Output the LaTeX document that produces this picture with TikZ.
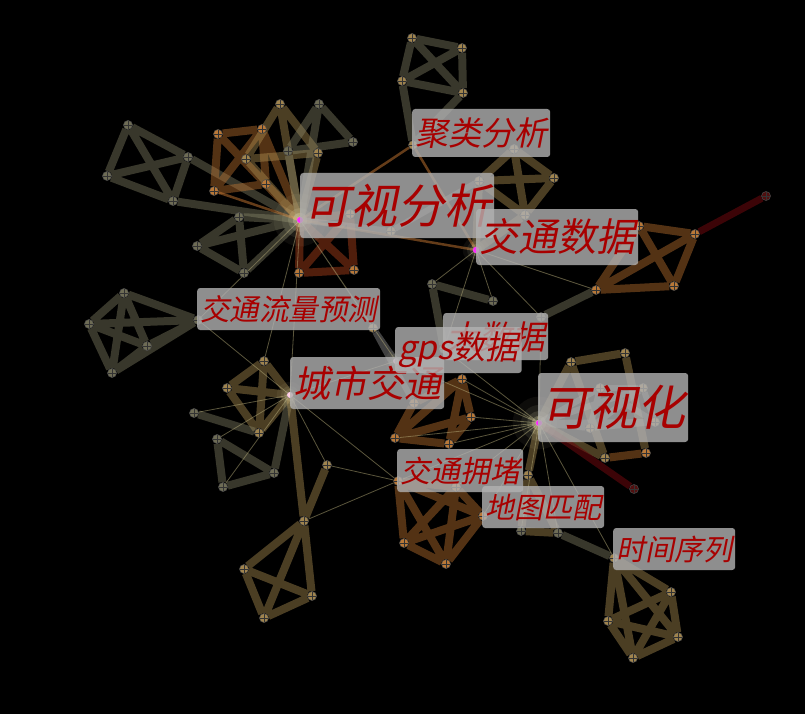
\documentclass[tikz,border=0pt]{standalone}
\usepackage{fontspec}
\newfontfamily\cjk[FakeSlant=0.2]{Noto Sans CJK SC}
\usetikzlibrary{positioning}
\pgfdeclarelayer{back}
\pgfdeclarelayer{edges}
\pgfsetlayers{back,edges,main}

\definecolor{egray}{RGB}{140,138,108}
\definecolor{egold}{RGB}{180,148,85}
\definecolor{eorange}{RGB}{200,120,50}
\definecolor{erust}{RGB}{160,60,25}
\definecolor{edark}{RGB}{100,8,12}
\definecolor{espoke}{RGB}{180,170,120}
\definecolor{vgray}{RGB}{110,108,85}
\definecolor{vgold}{RGB}{160,132,78}
\definecolor{vorange}{RGB}{185,120,55}
\definecolor{vdark}{RGB}{80,15,15}
\definecolor{kword}{RGB}{168,0,0}
\definecolor{kmag}{RGB}{255,40,255}

\tikzset{
  vtx/.style={circle, inner sep=0pt, minimum size=9pt, fill=#1, draw=black!70, line width=0.5pt,
    path picture={\draw[black!80, line width=0.8pt]
      (path picture bounding box.north) -- (path picture bounding box.south)
      (path picture bounding box.west) -- (path picture bounding box.east);}},
  vtx/.default=vgold,
  hub/.style={circle, inner sep=0pt, minimum size=6pt, fill=#1},
  hub/.default=kmag,
  ge/.style={draw=egray, line width=8pt, draw opacity=0.4},
  gd/.style={draw=egold, line width=8pt, draw opacity=0.42},
  oe/.style={draw=eorange, line width=8pt, draw opacity=0.42},
  re/.style={draw=erust, line width=8pt, draw opacity=0.5},
  de/.style={draw=edark, line width=7pt, draw opacity=0.6},
  le/.style={draw=white, line width=6pt, draw opacity=0.25},
  om/.style={draw=eorange, line width=2.5pt, draw opacity=0.5},
  se/.style={draw=espoke, line width=0.8pt, draw opacity=0.5},
  kw/.style 2 args={anchor=west, fill=white!70!black, fill opacity=0.8, text opacity=1,
    text=kword, rounded corners=3pt, inner xsep=3pt, inner ysep=0pt,
    font=\cjk\fontsize{#1}{#1}\selectfont, minimum height=#2}
}

\begin{document}
\begin{tikzpicture}[x=1pt,y=-1pt]
    \useasboundingbox (0,0) rectangle (805,714);
    \begin{pgfonlayer}{back}
        \fill[black] (0,0) rectangle (805,714);
    \end{pgfonlayer}

    % keyword vertices
    \node[hub] (kvfx) at (300,220) {};
    \node[hub] (jtsj) at (476,250) {};
    \node[hub] (kvh) at (539,423) {};
    \node[hub=kmag!40!white] (csjt) at (290,395) {};
    \node[hub=kmag!40!white] (gps) at (396,361) {};
    \node[vtx] (jlfx) at (413,145) {};
    \node[vtx=vgray] (llyc) at (198,320) {};
    \node[vtx=vgray] (dsj) at (444,349) {};
    \node[vtx=vorange] (jtyd) at (398,481) {};
    \node[vtx=vorange] (dtpp) at (483,516) {};
    \node[vtx] (sjxl) at (614,558) {};

    % other vertices
    \node[vtx=vgray] (a1) at (128,125) {};
    \node[vtx=vgray] (a2) at (188,157) {};
    \node[vtx=vgray] (a3) at (107,176) {};
    \node[vtx=vgray] (a4) at (173,201) {};
    \node[vtx=vorange] (b1) at (218,134) {};
    \node[vtx=vorange] (b2) at (262,129) {};
    \node[vtx=vorange] (b3) at (214,191) {};
    \node[vtx=vorange] (b4) at (266,184) {};
    \node[vtx] (c1) at (280,104) {};
    \node[vtx] (c2) at (246,159) {};
    \node[vtx] (c3) at (318,153) {};
    \node[vtx=vgray] (d1) at (319,104) {};
    \node[vtx=vgray] (d2) at (353,142) {};
    \node[vtx=vgray] (d3) at (288,151) {};
    \node[vtx=vgray] (e1) at (239,217) {};
    \node[vtx=vgray] (e2) at (197,246) {};
    \node[vtx=vgray] (e3) at (244,273) {};
    \node[vtx=vorange] (f1) at (350,214) {};
    \node[vtx=vorange] (f2) at (299,273) {};
    \node[vtx=vorange] (f3) at (354,270) {};
    \node[vtx] (g1) at (412,38) {};
    \node[vtx] (g2) at (462,48) {};
    \node[vtx] (g3) at (402,81) {};
    \node[vtx] (g4) at (463,93) {};
    \node[vtx] (h1) at (514,149) {};
    \node[vtx] (h2) at (554,178) {};
    \node[vtx] (h3) at (479,181) {};
    \node[vtx] (h4) at (525,215) {};
    \node[vtx=vorange] (i1) at (639,226) {};
    \node[vtx=vorange] (i2) at (695,234) {};
    \node[vtx=vorange] (i3) at (596,290) {};
    \node[vtx=vorange] (i4) at (674,286) {};
    \node[vtx=vdark] (t2) at (766,196) {};
    \node[vtx=vgray] (j1) at (124,293) {};
    \node[vtx=vgray] (j2) at (89,324) {};
    \node[vtx=vgray] (j3) at (147,346) {};
    \node[vtx=vgray] (j4) at (112,373) {};
    \node[vtx] (k1) at (264,361) {};
    \node[vtx] (k2) at (227,388) {};
    \node[vtx] (k3) at (259,433) {};
    \node[vtx=vgray] (k0) at (194,413) {};
    \node[vtx=vgray] (l1) at (217,439) {};
    \node[vtx=vgray] (l2) at (274,473) {};
    \node[vtx=vgray] (l3) at (223,487) {};
    \node[vtx] (m1) at (327,465) {};
    \node[vtx] (m2) at (304,521) {};
    \node[vtx] (m3) at (244,569) {};
    \node[vtx] (m4) at (312,596) {};
    \node[vtx] (m5) at (264,618) {};
    \node[vtx=vorange] (n1) at (462,379) {};
    \node[vtx=vorange] (n2) at (471,417) {};
    \node[vtx=vorange] (n3) at (395,438) {};
    \node[vtx=vorange] (n4) at (449,444) {};
    \node[vtx=vorange] (n5) at (414,403) {};
    \node[vtx=vorange] (o1) at (456,487) {};
    \node[vtx=vorange] (o3) at (404,543) {};
    \node[vtx=vorange] (o4) at (446,564) {};
    \node[vtx] (p1) at (528,475) {};
    \node[vtx=vgray] (p2) at (521,531) {};
    \node[vtx=vgray] (p3) at (558,533) {};
    \node[vtx] (q1) at (671,592) {};
    \node[vtx] (q2) at (608,621) {};
    \node[vtx] (q3) at (678,637) {};
    \node[vtx] (q4) at (633,658) {};
    \node[vtx=vgray] (r1) at (432,284) {};
    \node[vtx=vgray] (r2) at (493,301) {};
    \node[vtx=vgray] (r3) at (541,317) {};
    \node[vtx] (s1) at (571,362) {};
    \node[vtx] (s2) at (625,353) {};
    \node[vtx] (s3) at (605,458) {};
    \node[vtx=vorange] (s4) at (646,453) {};
    \node[vtx] (s5) at (600,388) {};
    \node[vtx] (s6) at (643,388) {};
    \node[vtx] (s7) at (590,428) {};
    \node[vtx] (s8) at (655,422) {};
    \node[vtx=vdark] (t1) at (634,489) {};
    \node[vtx] (u1) at (391,231) {};
    \node[vtx] (w1) at (373,328) {};

    \begin{pgfonlayer}{edges}
        % thick cluster edges
        \draw[ge] (a1) -- (a2) (a1) -- (a3) (a1) -- (a4) (a2) -- (a3) (a2) -- (a4) (a3) -- (a4)
                  (a2) -- (kvfx) (a4) -- (kvfx);
        \draw[oe] (b1) -- (b2) (b1) -- (b3) (b1) -- (b4) (b2) -- (b3) (b2) -- (b4) (b3) -- (b4)
                  (b1) -- (kvfx) (b2) -- (kvfx) (b4) -- (kvfx);
        \draw[gd] (c1) -- (c2) (c1) -- (c3) (c2) -- (c3) (c1) -- (kvfx) (c2) -- (kvfx) (c3) -- (kvfx);
        \draw[ge] (d1) -- (d2) (d1) -- (d3) (d2) -- (d3) (d1) -- (kvfx) (d3) -- (kvfx);
        \draw[ge] (e1) -- (e2) (e1) -- (e3) (e2) -- (e3) (e1) -- (kvfx) (e2) -- (kvfx) (e3) -- (kvfx);
        \draw[re] (f1) -- (f2) (f1) -- (f3) (f2) -- (f3) (f1) -- (kvfx) (f2) -- (kvfx) (f3) -- (kvfx);
        \draw[ge] (g1) -- (g2) (g1) -- (g3) (g1) -- (g4) (g2) -- (g3) (g2) -- (g4) (g3) -- (g4)
                  (g3) -- (jlfx) (g4) -- (jlfx);
        \draw[gd] (h1) -- (h2) (h1) -- (h3) (h1) -- (h4) (h2) -- (h3) (h2) -- (h4) (h3) -- (h4)
                  (h3) -- (jtsj) (h4) -- (jtsj);
        \draw[oe] (i1) -- (i2) (i1) -- (i3) (i1) -- (i4) (i2) -- (i3) (i2) -- (i4) (i3) -- (i4);
        \draw[ge] (j1) -- (j2) (j1) -- (j3) (j1) -- (j4) (j2) -- (j3) (j2) -- (j4) (j3) -- (j4)
                  (j1) -- (llyc) (j2) -- (llyc) (j3) -- (llyc) (j4) -- (llyc);
        \draw[gd] (k1) -- (k2) (k1) -- (k3) (k2) -- (k3) (k1) -- (csjt) (k2) -- (csjt) (k3) -- (csjt);
        \draw[ge] (k0) -- (k3) (l1) -- (l2) (l1) -- (l3) (l2) -- (l3) (l2) -- (csjt);
        \draw[gd] (csjt) -- (m2) (m1) -- (m2) (m2) -- (m3) (m2) -- (m4) (m2) -- (m5)
                  (m3) -- (m4) (m3) -- (m5) (m4) -- (m5);
        \draw[oe] (n1) -- (n2) (n1) -- (n3) (n1) -- (n4) (n2) -- (n3) (n2) -- (n4) (n3) -- (n4)
                  (n5) -- (n1) (n5) -- (n3);
        \draw[oe] (jtyd) -- (o1) (jtyd) -- (dtpp) (jtyd) -- (o3) (jtyd) -- (o4) (o1) -- (dtpp)
                  (o1) -- (o3) (o1) -- (o4) (dtpp) -- (o3) (dtpp) -- (o4) (o3) -- (o4);
        \draw[gd] (p1) -- (kvh) (p1) -- (p2) (p1) -- (p3) (p2) -- (p3);
        \draw[ge] (p3) -- (sjxl) (r1) -- (r2) (r1) -- (dsj) (r3) -- (i3);
        \draw[gd] (sjxl) -- (q1) (sjxl) -- (q2) (sjxl) -- (q3) (sjxl) -- (q4) (q1) -- (q2)
                  (q1) -- (q3) (q1) -- (q4) (q2) -- (q3) (q2) -- (q4) (q3) -- (q4);
        \draw[gd] (s1) -- (s2) (s1) -- (s3) (s2) -- (s4) (s1) -- (kvh) (s3) -- (kvh);
        \draw[oe] (s3) -- (s4);
        \draw[le] (s5) -- (s6) (s5) -- (s7) (s6) -- (s8) (s7) -- (s8) (s5) -- (s8) (s6) -- (s7)
                  (s5) -- (kvh) (s6) -- (kvh) (s7) -- (kvh) (s8) -- (kvh);
        \draw[le] (kvfx) -- (u1) (u1) -- (h3) (w1) -- (gps) (w1) -- (n5);
        \draw[de] (kvh) -- (t1) (i2) -- (t2);
        \draw[om] (jlfx) -- (kvfx) (jlfx) -- (jtsj) (kvfx) -- (jtsj) (b3) -- (kvfx);
        % thin links
        \draw[se] (kvfx) -- (llyc) (kvfx) -- (csjt) (kvfx) -- (gps) (kvfx) -- (w1) (kvfx) -- (k1);
        \draw[se] (jtsj) -- (r1) (jtsj) -- (r2) (jtsj) -- (r3) (jtsj) -- (i3) (jtsj) -- (dsj);
        \draw[se] (kvh) -- (dsj) (kvh) -- (gps) (kvh) -- (n1) (kvh) -- (n2) (kvh) -- (n3) (kvh) -- (n4)
                  (kvh) -- (jtyd) (kvh) -- (o1) (kvh) -- (dtpp) (kvh) -- (p2) (kvh) -- (p3)
                  (kvh) -- (sjxl) (kvh) -- (r3);
        \draw[se] (csjt) -- (llyc) (csjt) -- (jtyd) (csjt) -- (m1) (csjt) -- (k0) (csjt) -- (l1)
                  (csjt) -- (l3) (csjt) -- (gps) (m1) -- (jtyd) (m2) -- (jtyd);
    \end{pgfonlayer}

    % glow round the big keywords
    \foreach \h/\s in {kvfx/1.2, kvh/1.2, jtsj/0.6, csjt/0.6, gps/0.5}
        \foreach \r/\o in {22/0.05, 15/0.08, 10/0.12, 6/0.22, 3/0.4}
            \fill[yellow!20!white, opacity=\o] (\h) circle ({\s*\r*1pt});
    \node[hub] at (kvfx) {};
    \node[hub] at (jtsj) {};
    \node[hub] at (kvh) {};

    % keyword labels
    \node[kw={47}{65pt}] (t-kvfx) at (300,205.5) {可视分析};
    \node[kw={33}{48pt}] (t-jlfx) at (412,133) {聚类分析};
    \node[kw={39}{56pt}] (t-jtsj) at (476,237) {交通数据};
    \node[kw={29.5}{42pt}] (t-llyc) at (197,309) {交通流量预测};
    \node[kw={37}{52pt}] (t-csjt) at (290,383) {城市交通};
    \node[kw={33}{47pt}] (t-dsj) at (443,336.5) {大数据};
    \node[kw={33}{46pt}] (t-gps) at (395,350) {gps数据};
    \node[kw={48}{69pt}] (t-kvh) at (538,407.5) {可视化};
    \node[kw={30}{43pt}] (t-jtyd) at (397,470.5) {交通拥堵};
    \node[kw={29}{42pt}] (t-dtpp) at (482,507) {地图匹配};
    \node[kw={29}{42pt}] (t-sjxl) at (613,549) {时间序列};

\end{tikzpicture}
\end{document}
